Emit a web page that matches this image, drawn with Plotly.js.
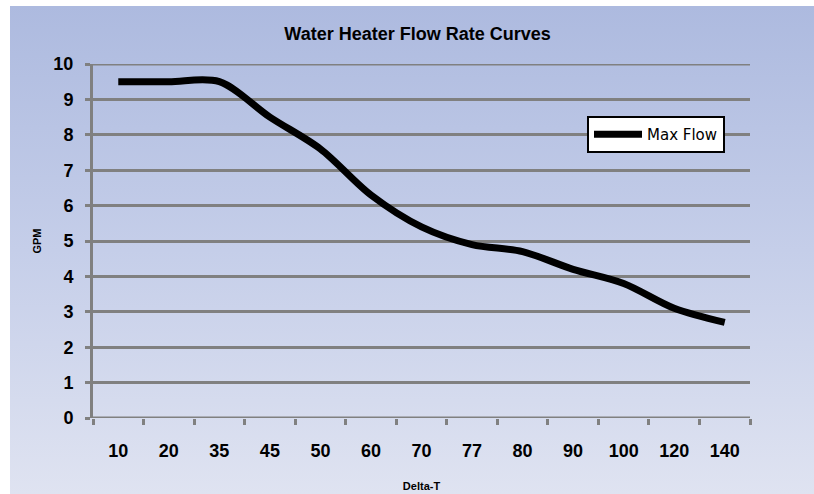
<!DOCTYPE html>
<html>
<head>
<meta charset="utf-8">
<script src="https://cdn.plot.ly/plotly-3.0.1.min.js"></script>
<style>
  html, body { margin: 0; padding: 0; background: #ffffff; }
  #wrap { position: relative; width: 814px; height: 494px; overflow: hidden; }
  #bg { position: absolute; left: 10px; top: 6px; right: 0; bottom: 0;
        background: linear-gradient(to bottom, #adbadf 0%, #c5cee9 50%, #dfe3f1 100%); }
  #chart { position: absolute; left: 0; top: 0; width: 814px; height: 494px; }
</style>
</head>
<body>
<div id="wrap">
  <div id="bg"></div>
  <div id="chart"></div>
</div>
<script>
const categories = ["10", "20", "35", "45", "50", "60", "70", "77", "80", "90", "100", "120", "140"];
const maxFlow = [9.5, 9.5, 9.5, 8.5, 7.6, 6.3, 5.4, 4.9, 4.7, 4.2, 3.8, 3.1, 2.7];
const seriesName = "Max Flow";
const yTicks = [0, 1, 2, 3, 4, 5, 6, 7, 8, 9, 10];

const sans = "Liberation Sans, Arial, sans-serif";

const trace = {
  type: "scatter",
  mode: "lines",
  x: categories,
  y: maxFlow,
  name: seriesName,
  line: { color: "#000000", width: 7, shape: "spline", smoothing: 0.9 },
  hoverinfo: "skip"
};

const edgeLine = (v) => ({
  type: "line", xref: "paper", yref: "y", x0: 0, x1: 1, y0: v, y1: v,
  line: { color: "#808080", width: 3 }, layer: "below"
});

const layout = {
  width: 814,
  height: 494,
  paper_bgcolor: "rgba(0,0,0,0)",
  plot_bgcolor: "rgba(0,0,0,0)",
  margin: { l: 93, r: 64, t: 64, b: 76 },
  showlegend: true,
  title: {
    text: "<b>Water Heater Flow Rate Curves</b>",
    font: { family: sans, size: 18, color: "#000000" },
    x: 0.513, xanchor: "center",
    y: 1 - 34 / 494, yanchor: "middle"
  },
  xaxis: {
    type: "category",
    categoryorder: "array",
    categoryarray: categories,
    tickmode: "array",
    tickvals: categories,
    ticktext: categories.map(c => "<b>" + c + "</b>"),
    range: [-0.5, categories.length - 0.5],
    showgrid: false,
    zeroline: false,
    showline: false,
    ticks: "outside",
    tickson: "boundaries",
    ticklen: 6,
    tickwidth: 3,
    tickcolor: "#808080",
    ticklabelstandoff: 20,
    tickfont: { family: sans, size: 18, color: "#000000" },
    title: { text: "<b>Delta-T</b>", font: { family: sans, size: 11, color: "#000000" }, standoff: 22 },
    fixedrange: true
  },
  yaxis: {
    range: [0, 10],
    tickmode: "array",
    tickvals: yTicks,
    ticktext: yTicks.map(v => "<b>" + v + "</b>"),
    showgrid: true,
    gridcolor: "#808080",
    gridwidth: 3,
    zeroline: false,
    showline: true,
    linecolor: "#808080",
    linewidth: 3,
    ticks: "outside",
    ticklen: 5,
    tickwidth: 3,
    tickcolor: "#808080",
    ticklabelstandoff: 8,
    tickfont: { family: sans, size: 18, color: "#000000" },
    title: { text: "<b>GPM</b>", font: { family: sans, size: 11, color: "#000000" }, standoff: 10 },
    fixedrange: true
  },
  shapes: [edgeLine(0), edgeLine(10)],
  legend: {
    x: (587 - 93) / 657, xanchor: "left",
    y: (418 - 116) / 354, yanchor: "top",
    bgcolor: "#ffffff",
    bordercolor: "#000000",
    borderwidth: 2,
    font: { family: "DejaVu Sans, sans-serif", size: 15, color: "#000000" },
    itemwidth: 48,
    tracegroupgap: 0
  }
};

Plotly.newPlot("chart", [trace], layout, { displayModeBar: false, staticPlot: true });
</script>
</body>
</html>
